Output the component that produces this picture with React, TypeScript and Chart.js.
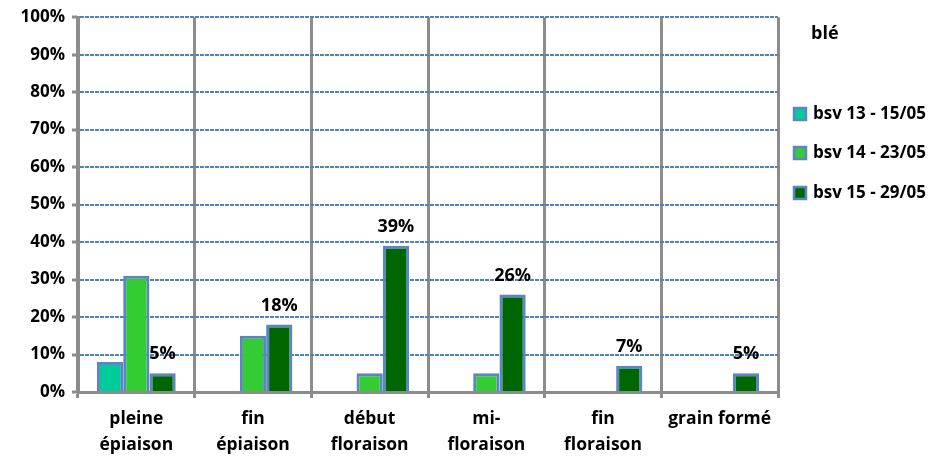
import React, { useEffect, useRef } from "react";
import { Chart, registerables } from "chart.js";

Chart.register(...registerables);

const categories: string[][] = [
  ["pleine", "épiaison"],
  ["fin", "épiaison"],
  ["début", "floraison"],
  ["mi-", "floraison"],
  ["fin", "floraison"],
  ["grain formé"],
];
const seriesNames = ["bsv 13 - 15/05", "bsv 14 - 23/05", "bsv 15 - 29/05"];
const bsv13 = [8, null, null, null, null, null];
const bsv14 = [31, 15, 5, 5, null, null];
const bsv15 = [5, 18, 39, 26, 7, 5];
const seriesColors = ["#00cc99", "#33cc33", "#006600"];
const legendTitle = "blé";
const yTicks = [0, 10, 20, 30, 40, 50, 60, 70, 80, 90, 100];

const FONT = "'Open Sans', sans-serif";
const GRAY = "#8c8c8c";
const BLUE = "#5a86c4";

const labelPlugin = {
  id: "valueLabels",
  afterDatasetsDraw(chart: any) {
    const ctx = chart.ctx;
    const meta = chart.getDatasetMeta(2);
    const data = chart.data.datasets[2].data;
    ctx.save();
    ctx.font = `bold 18px ${FONT}`;
    ctx.fillStyle = "#000";
    ctx.textAlign = "center";
    ctx.textBaseline = "middle";
    meta.data.forEach((bar: any, i: number) => {
      const v = data[i];
      if (v == null) return;
      ctx.fillText(`${v}%`, bar.x, bar.y - 19);
    });
    ctx.restore();
  },
};

const legendPlugin = {
  id: "customLegend",
  afterDraw(chart: any) {
    const ctx = chart.ctx;
    ctx.save();
    ctx.fillStyle = "#000";
    ctx.textBaseline = "middle";
    ctx.textAlign = "left";
    ctx.font = `bold 18px ${FONT}`;
    ctx.fillText(legendTitle, 811, 34);
    ctx.font = `bold 17px ${FONT}`;
    const ys = [114, 153, 193];
    seriesNames.forEach((name, i) => {
      const y = ys[i];
      ctx.fillStyle = seriesColors[i];
      ctx.fillRect(794, y - 6, 12, 12);
      ctx.strokeStyle = BLUE;
      ctx.lineWidth = 2.5;
      ctx.strokeRect(794, y - 6, 12, 12);
      ctx.fillStyle = "#000";
      ctx.fillText(name, 813, y);
    });
    ctx.restore();
  },
};

export default function App() {
  const ref = useRef<HTMLCanvasElement>(null);
  useEffect(() => {
    const datasets = [bsv13, bsv14, bsv15].map((d, i) => ({
      label: seriesNames[i],
      data: d,
      backgroundColor: seriesColors[i],
      borderColor: BLUE,
      borderWidth: 3,
      categoryPercentage: 0.675,
      barPercentage: 1,
    }));
    const chart = new Chart(ref.current!, {
      type: "bar",
      data: { labels: categories, datasets },
      options: {
        animation: false,
        responsive: false,
        maintainAspectRatio: false,
        layout: { padding: { top: 15, right: 165, left: 0, bottom: 0 } },
        plugins: {
          legend: { display: false },
          tooltip: { enabled: false },
          title: { display: false },
        },
        scales: {
          x: {
            offset: true,
            grid: {
              offset: true,
              color: GRAY,
              lineWidth: 3,
              tickLength: 6,
              tickColor: GRAY,
              tickWidth: 3,
              tickBorderDash: [],
            },
            border: { color: GRAY, width: 3, dash: [] },
            ticks: {
              color: "#000",
              font: { family: FONT, size: 17.5, weight: "bold", lineHeight: 1.48 },
              padding: 8,
              maxRotation: 0,
              autoSkip: false,
            },
            afterFit: (s: any) => {
              s.height = 64;
            },
          },
          y: {
            min: 0,
            max: 100,
            afterBuildTicks: (s: any) => {
              s.ticks = yTicks.map((v) => ({ value: v }));
            },
            grid: {
              color: "#4f81bd",
              lineWidth: 2,
              tickLength: 6,
              tickColor: GRAY,
              tickWidth: 3,
              tickBorderDash: [],
            },
            border: { color: GRAY, width: 3, dash: [4, 1] },
            ticks: {
              color: "#000",
              font: { family: FONT, size: 17, weight: "bold" },
              padding: 7,
              callback: (v: any) => `${v}%`,
            },
            afterFit: (s: any) => {
              s.width = 78;
            },
          },
        },
      },
      plugins: [labelPlugin, legendPlugin],
    });
    return () => chart.destroy();
  }, []);
  return (
    <div style={{ position: "fixed", left: 0, top: 0, width: 943, height: 456, background: "#fff" }}>
      <canvas ref={ref} width={943} height={456} style={{ width: 943, height: 456 }} />
    </div>
  );
}
